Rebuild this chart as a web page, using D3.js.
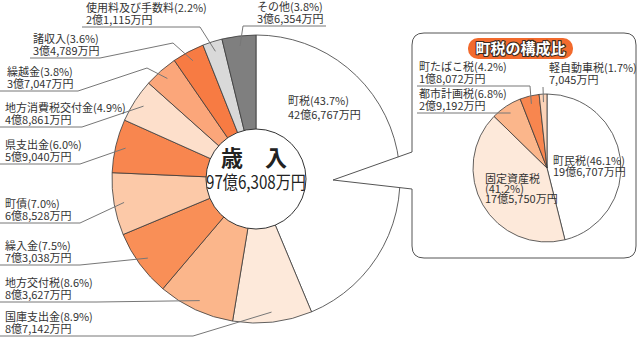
<!DOCTYPE html>
<html><head><meta charset="utf-8">
<script src="https://cdn.jsdelivr.net/npm/d3@7"></script>
<style>
html,body{margin:0;padding:0;background:#fff;}
svg{display:block;font-family:"Noto Sans CJK JP","Noto Sans",sans-serif;}
</style></head>
<body><svg id="c" width="639" height="338"></svg>
<script>
// ---- data ----
const mainCats = ["町税","国庫支出金","地方交付税","繰入金","町債","県支出金","地方消費税交付金","繰越金","諸収入","使用料及び手数料","その他"];
const mainPct  = [43.7, 8.9, 8.6, 7.5, 7.0, 6.0, 4.9, 3.8, 3.6, 2.2, 3.8];
const mainAmt  = ["42億6,767万円","8億7,142万円","8億3,627万円","7億3,038万円","6億8,528万円","5億9,040万円","4億8,861万円","3億7,047万円","3億4,789万円","2億1,115万円","3億6,354万円"];
const mainTitle = "歳　入";
const mainTotal = "97億6,308万円";
const subTitle = "町税の構成比";
const subCats = ["町民税","固定資産税","都市計画税","町たばこ税","軽自動車税"];
const subPct  = [46.1, 41.2, 6.8, 4.2, 1.7];
const subAmt  = ["19億6,707万円","17億5,750万円","2億9,192万円","1億8,072万円","7,045万円"];

// ---- styles ----
const mainColors = ["#ffffff","#fde9da","#fbb68b","#f98f57","#fcc9a8","#f8864f","#fddfcb","#fba67a","#f77b43","#d9d9d9","#7f7f7f"];
const subColors  = ["#ffffff","#fde9da","#fbb68b","#f8864f","#fcd3b8"];
const txt = "#333";

const svg = d3.select("#c");

// ---- main pie ----
const mc = [256,179], R = 144, rIn = 50;
const pie = d3.pie().sort(null).value(d=>d.v);
const mainData = pie(mainCats.map((c,i)=>({c, v:mainPct[i], a:mainAmt[i], col:mainColors[i]})));
const arc = d3.arc().innerRadius(0).outerRadius(R);
const gM = svg.append("g").attr("transform",`translate(${mc})`);
gM.selectAll("path").data(mainData).join("path")
  .attr("d",arc).attr("fill",d=>d.data.col)
  .attr("stroke","#3a3a3a").attr("stroke-width",0.8).attr("stroke-linejoin","round");

// leader anchors
const anchorArc = d3.arc().innerRadius(134).outerRadius(134);

// label layout: [textX, underlineY, ulStartX, ulEndX, elbow, leaderFromStart]
const mainLayout = {
  "国庫支出金":[5,336,0,193,null],
  "地方交付税":[5,302,0,97,null],
  "繰入金":[5,265,0,80,null],
  "町債":[5,223,0,80,null],
  "県支出金":[5,164,0,80,null],
  "地方消費税交付金":[5,127,0,82,null],
  "繰越金":[7,91,0,78,[147,68]],
  "諸収入":[33,58,30,100,[173,43]],
  "使用料及び手数料":[86,27,82,200,null],
  "その他":[257,26,243,326,null,true]
};

function drawLabel(g, x, ul, name, amt){
  const t = g.append("text").attr("fill",txt).attr("font-size",11);
  t.append("tspan").attr("x",x).attr("y",ul-15).text(name);
  t.append("tspan").attr("x",x).attr("y",ul-3.5).text(amt);
}
const gL = svg.append("g");
mainData.forEach(d=>{
  const name = d.data.c, lay = mainLayout[name];
  if(!lay) return;
  const [tx,ul,x0,x1,elbow,fromStart] = lay;
  const c = anchorArc.centroid(d); const px = c[0]+mc[0], py = c[1]+mc[1];
  let pts;
  if(fromStart){
    gL.append("line").attr("x1",x0).attr("y1",ul).attr("x2",x1).attr("y2",ul).attr("stroke","#777").attr("stroke-width",1);
    pts = [[x0,ul],[px,py]];
  } else {
    pts = [[x0,ul],[x1,ul]];
    if(elbow) pts.push(elbow);
    pts.push([px,py]);
  }
  gL.append("path").attr("d",d3.line()(pts)).attr("fill","none").attr("stroke","#777").attr("stroke-width",1);
  drawLabel(gL, tx, ul, `${name}(${d.data.v.toFixed(1)}%)`, d.data.a);
});
// 町税 label inside
{
  const t = gL.append("text").attr("fill",txt).attr("font-size",11);
  t.append("tspan").attr("x",288).attr("y",105).text(`${mainCats[0]}(${mainPct[0].toFixed(1)}%)`);
  t.append("tspan").attr("x",288).attr("y",119).text(mainAmt[0]);
}

// center circle
svg.append("circle").attr("cx",mc[0]).attr("cy",mc[1]).attr("r",rIn)
  .attr("fill","#fff").attr("stroke","#333").attr("stroke-width",1);
svg.append("text").attr("x",mc[0]-2).attr("y",166).attr("text-anchor","middle")
  .attr("font-size",22).attr("font-weight","bold").attr("fill","#222").text(mainTitle);
svg.append("text").attr("x",mc[0]).attr("y",189).attr("text-anchor","middle")
  .attr("font-size",18).attr("fill","#222").attr("textLength",100).attr("lengthAdjust","spacingAndGlyphs").text(mainTotal);

// ---- callout box ----
const bx0=412, by0=33, bx1=636, by1=258, br=12;
const tip=[333,180], tA=152, tB=189;
svg.append("rect").attr("x",bx0).attr("y",by0).attr("width",bx1-bx0).attr("height",by1-by0).attr("rx",br).attr("fill","#fff");
svg.append("path").attr("d",`M${bx0+1},${tA}L${tip}L${bx0+1},${tB}Z`).attr("fill","#fff");
svg.append("path").attr("d",
  `M${bx0},${tB}L${bx0},${by1-br}Q${bx0},${by1} ${bx0+br},${by1}L${bx1-br},${by1}Q${bx1},${by1} ${bx1},${by1-br}`+
  `L${bx1},${by0+br}Q${bx1},${by0} ${bx1-br},${by0}L${bx0+br},${by0}Q${bx0},${by0} ${bx0},${by0+br}L${bx0},${tA}L${tip}L${bx0},${tB}`)
  .attr("fill","none").attr("stroke","#555").attr("stroke-width",1);

// title pill
svg.append("rect").attr("x",468).attr("y",38).attr("width",105).attr("height",21).attr("rx",10)
  .attr("fill","#f26a2d");
svg.append("text").attr("x",520.5).attr("y",54).attr("text-anchor","middle")
  .attr("font-size",15).attr("font-weight","bold").attr("fill","#fff")
  .attr("stroke","#3a2a20").attr("stroke-width",2.2).attr("paint-order","stroke").attr("stroke-linejoin","round")
  .text(subTitle);

// ---- sub pie ----
const sc=[547,168], sR=74;
const subData = pie(subCats.map((c,i)=>({c, v:subPct[i], a:subAmt[i], col:subColors[i]})));
const sArc = d3.arc().innerRadius(0).outerRadius(sR);
const gS = svg.append("g").attr("transform",`translate(${sc})`);
gS.selectAll("path").data(subData).join("path")
  .attr("d",sArc).attr("fill",d=>d.data.col)
  .attr("stroke","#3a3a3a").attr("stroke-width",0.8).attr("stroke-linejoin","round");
const sAnchor = d3.arc().innerRadius(66).outerRadius(66);
const subLayout = {
  "都市計画税":[419,113,417,null,null],
  "町たばこ税":[419,86,417,530,null],
  "軽自動車税":[549,87,543,623,null,true]
};
subData.forEach(d=>{
  const name=d.data.c, lay=subLayout[name];
  if(!lay) return;
  const [tx,ul,x0,x1,elbow,fromStart]=lay;
  const c=sAnchor.centroid(d); const px=c[0]+sc[0], py=c[1]+sc[1];
  let pts;
  if(fromStart){
    gL.append("line").attr("x1",x0).attr("y1",ul).attr("x2",x1).attr("y2",ul).attr("stroke","#777");
    pts=[[x0,ul],[px,py]];
  } else if(x1===null){
    pts=[[x0,ul],[px,ul]];
  } else {
    pts=[[x0,ul],[x1,ul],[px,py]];
  }
  svg.append("path").attr("d",d3.line()(pts)).attr("fill","none").attr("stroke","#777").attr("stroke-width",1);
  drawLabel(svg, tx, ul, `${name}(${d.data.v.toFixed(1)}%)`, d.data.a);
});
// inside labels
{
  const t=svg.append("text").attr("fill",txt).attr("font-size",11);
  t.append("tspan").attr("x",553).attr("y",165).text(`${subCats[0]}(${subPct[0].toFixed(1)}%)`);
  t.append("tspan").attr("x",553).attr("y",176).text(subAmt[0]);
  const u=svg.append("text").attr("fill",txt).attr("font-size",11);
  u.append("tspan").attr("x",485).attr("y",183).text(subCats[1]);
  u.append("tspan").attr("x",485).attr("y",193).text(`(${subPct[1].toFixed(1)}%)`);
  u.append("tspan").attr("x",485).attr("y",203).text(subAmt[1]);
}
</script></body></html>
